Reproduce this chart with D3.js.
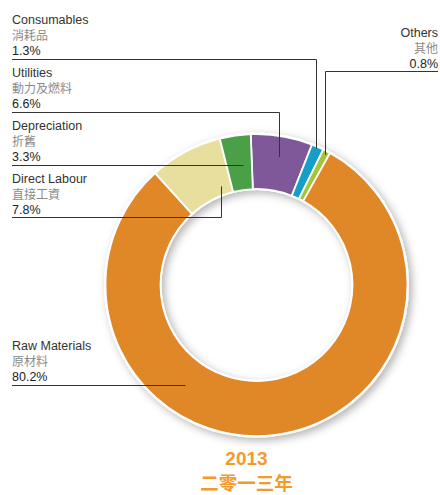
<!DOCTYPE html>
<html>
<head>
<meta charset="utf-8">
<script src="https://cdn.jsdelivr.net/npm/d3@7"></script>
<style>
	body { margin: 0; background: #fff; }
	svg { display: block; font-family: "Liberation Sans", Arial, sans-serif; }
	.en { fill: #333; font-size: 12.5px; }
	.zh { fill: #8a8a8a; font-size: 12px; font-family: "Noto Sans CJK TC", sans-serif; }
	.pct { fill: #222; font-size: 12.5px; }
	.leader { fill: none; stroke: #333; stroke-width: 1; }
</style>
</head>
<body>
<div id="chart"></div>
<script>
// slice order clockwise, starting near twelve o'clock
var categories = ['Utilities', 'Consumables', 'Others', 'Raw Materials', 'Direct Labour', 'Depreciation'];
var chineseNames = ['動力及燃料', '消耗品', '其他', '原材料', '直接工資', '折舊'];
var values = [6.6, 1.3, 0.8, 80.2, 7.8, 3.3];
var colors = ['#7e5899', '#159fc7', '#a6c43a', '#e08828', '#e8df9f', '#4a9f47'];
var yearLabel = '2013';
var yearLabelZh = '二零一三年';

var w = 440, h = 495;
var cx = 256.5, cy = 285, outerR = 151, innerR = 96;
var startOffset = -2.2 * Math.PI / 180;

var svg = d3.select('#chart')
	.append('svg')
	.attr('width', w)
	.attr('height', h);

var filter = svg.append('defs').append('filter')
	.attr('id', 'shadow')
	.attr('x', '-20%').attr('y', '-20%')
	.attr('width', '140%').attr('height', '140%');
filter.append('feDropShadow')
	.attr('dx', 3).attr('dy', 3)
	.attr('stdDeviation', 4)
	.attr('flood-color', '#000')
	.attr('flood-opacity', 0.3);

var data = categories.map(function(c, i) {
	return { name: c, zh: chineseNames[i], value: values[i], color: colors[i] };
});

var pie = d3.pie()
	.sort(null)
	.value(function(d) { return d.value; })
	.startAngle(startOffset)
	.endAngle(startOffset + 2 * Math.PI);

var arc = d3.arc().innerRadius(innerR).outerRadius(outerR);
var arcs = pie(data);

var ring = svg.append('g')
	.attr('transform', 'translate(' + cx + ',' + cy + ')');

// white ring behind slices carries the shadow
ring.append('path')
	.attr('d', d3.arc().innerRadius(innerR - 1).outerRadius(outerR + 1.5).startAngle(0).endAngle(2 * Math.PI)())
	.attr('fill', '#fff')
	.attr('filter', 'url(#shadow)');

ring.selectAll('path.slice')
	.data(arcs)
	.enter()
	.append('path')
	.attr('class', 'slice')
	.attr('d', arc)
	.attr('fill', function(d) { return d.data.color; })
	.attr('stroke', '#fff')
	.attr('stroke-width', 1.8)
	.attr('stroke-linejoin', 'round');

// point inside a slice at a fraction along its angle and a radius
function slicePoint(name, frac, r) {
	var a = arcs[categories.indexOf(name)];
	var ang = a.startAngle + (a.endAngle - a.startAngle) * frac;
	return [cx + r * Math.sin(ang), cy - r * Math.cos(ang)];
}

// label blocks: first baseline, side, underline y, where the leader ends in the slice
var labels = [
	{ name: 'Consumables', y: 24, side: 'left', underline: 59.5, frac: 0.4, r: 149 },
	{ name: 'Utilities', y: 77, side: 'left', underline: 112.5, frac: 0.52, r: 130 },
	{ name: 'Depreciation', y: 130, side: 'left', underline: 165.5, frac: 0.65, r: 121, straight: true },
	{ name: 'Direct Labour', y: 183, side: 'left', underline: 217.5, frac: 0.79, r: 105 },
	{ name: 'Raw Materials', y: 350, side: 'left', underline: 385.5, frac: 0.646, r: 123, straight: true },
	{ name: 'Others', y: 37, side: 'right', underline: 71.5, frac: 0.5, r: 147 }
];

labels.forEach(function(l) {
	var i = categories.indexOf(l.name);
	var x = l.side === 'left' ? 12 : 438;
	var anchor = l.side === 'left' ? 'start' : 'end';
	var g = svg.append('g');
	g.append('text').attr('class', 'en').attr('x', x).attr('y', l.y).attr('text-anchor', anchor).text(l.name);
	g.append('text').attr('class', 'zh').attr('x', x).attr('y', l.y + 16).attr('text-anchor', anchor).text(chineseNames[i]);
	g.append('text').attr('class', 'pct').attr('x', x).attr('y', l.y + 31).attr('text-anchor', anchor).text(values[i].toFixed(1) + '%');

	var end = slicePoint(l.name, l.frac, l.r);
	var ex = Math.round(end[0]) + 0.5;
	var p;
	if (l.straight) {
		p = [[12, l.underline], [ex, l.underline]];
	} else if (l.side === 'left') {
		p = [[12, l.underline], [ex, l.underline], [ex, end[1]]];
	} else {
		p = [[438, l.underline], [ex, l.underline], [ex, end[1]]];
	}
	g.append('path').attr('class', 'leader').attr('d', d3.line()(p));
});

svg.append('text')
	.attr('x', cx - 10).attr('y', 465)
	.attr('text-anchor', 'middle')
	.attr('fill', '#f39a2b')
	.attr('font-size', '19px')
	.attr('font-weight', 'bold')
	.text(yearLabel);

svg.append('text')
	.attr('x', cx - 10).attr('y', 490)
	.attr('text-anchor', 'middle')
	.attr('fill', '#f39a2b')
	.attr('font-size', '18.5px')
	.attr('font-weight', 'bold')
	.attr('font-family', '"Noto Sans CJK TC", sans-serif')
	.text(yearLabelZh);
</script>
</body>
</html>
